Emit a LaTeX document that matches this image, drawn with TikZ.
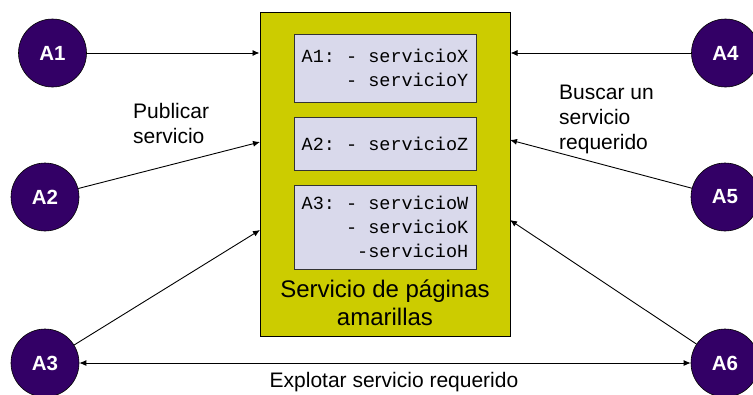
\documentclass[tikz,border=0pt]{standalone}
\usepackage{fontspec}
\setmainfont{Liberation Sans}
\setmonofont{Liberation Mono}
\usetikzlibrary{arrows.meta}
\definecolor{actorcol}{HTML}{330066}
\definecolor{ypcol}{HTML}{CCCC00}
\definecolor{entrycol}{HTML}{D9D9EB}
\tikzset{
  actor/.style={circle, fill=actorcol, draw=black, line width=0.6pt, minimum size=68pt, inner sep=0pt,
    text=white, font=\fontsize{20.5}{24}\selectfont\bfseries},
  entrybox/.style={draw=black!80, fill=entrycol, line width=1pt, minimum width=182pt, inner sep=0pt,
    font=\ttfamily\fontsize{18.5}{24}\selectfont, align=right},
  ypbox/.style={draw=black, fill=ypcol, line width=1pt, minimum width=250pt, minimum height=324pt, inner sep=0pt},
  tip/.tip={Latex[length=7pt,width=6pt]},
  link/.style={line width=0.9pt, -tip},
  lbl/.style={font=\fontsize{21}{25}\selectfont, align=left, inner sep=0pt},
}
\begin{document}
\begin{tikzpicture}[x=1pt,y=-1pt]
\useasboundingbox (0,0) rectangle (753,394);
% central service
\node[ypbox] (yp) at (385,174) {};
\node[entrybox, minimum height=68pt] (e1) at (385,68) {A1: - servicioX\\- servicioY};
\node[entrybox, minimum height=53pt] (e2) at (385,143.5) {A2: - servicioZ};
\node[entrybox, minimum height=84pt] (e3) at (385,227) {A3: - servicioW\\- servicioK\\-servicioH};
\node[font=\fontsize{24}{28}\selectfont, align=center, inner sep=0pt] (title) at (385,302.5) {Servicio de páginas\\amarillas};
% actors
\node[actor] (A1) at (52.5,53) {A1};
\node[actor] (A2) at (45,197) {A2};
\node[actor] (A3) at (45,363) {A3};
\node[actor] (A4) at (725.5,53) {A4};
\node[actor] (A5) at (725,197) {A5};
\node[actor] (A6) at (725,363) {A6};
% arrow ends on the service box
\coordinate (p2) at (260,142);
\coordinate (p3) at (260,230);
\coordinate (p5) at (510,140);
\coordinate (p6) at (510,220);
\draw[link] (A1) -- (yp.west |- A1);
\draw[link] (A2) -- (p2);
\draw[link] (A3) -- (p3);
\draw[link] (A4) -- (yp.east |- A4);
\draw[link] (A5) -- (p5);
\draw[link] (A6) -- (p6);
\draw[link, tip-tip] (A3) -- (A6);
% labels
\node[lbl, anchor=north west] (pub) at (133,103) {Publicar\\servicio};
\node[lbl, anchor=north west] (bus) at (559,85) {Buscar un\\servicio\\requerido};
\node[lbl] (expl) at (394,382.5) {Explotar servicio requerido};
\end{tikzpicture}
\end{document}
